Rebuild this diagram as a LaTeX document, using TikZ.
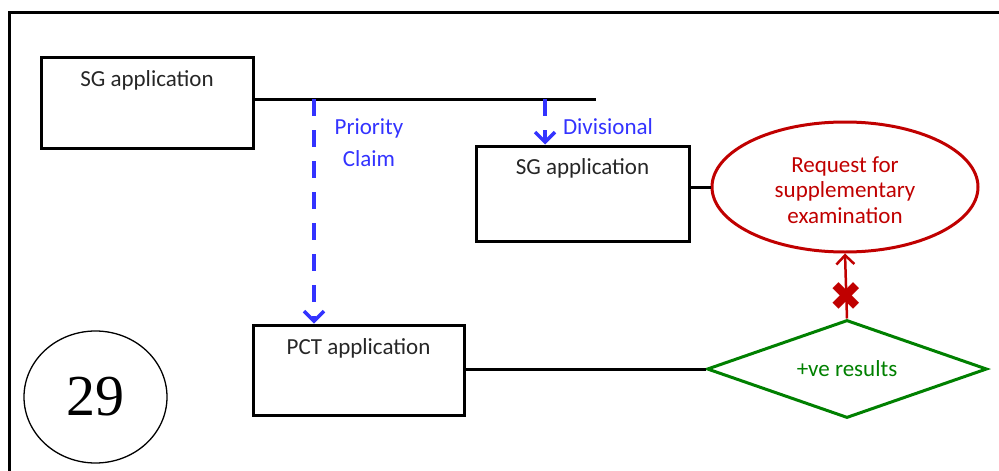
\documentclass[tikz,border=0pt]{standalone}
\usepackage{fontspec}
\setmainfont{Carlito}
\newfontfamily\timesf{Liberation Serif}
\newfontfamily\symf{DejaVu Sans}
\usetikzlibrary{shapes.geometric,arrows.meta}
\definecolor{myblue}{RGB}{51,51,255}
\definecolor{myred}{RGB}{192,0,0}
\definecolor{mygreen}{RGB}{0,128,0}
\definecolor{mytext}{RGB}{38,38,38}
\tikzset{
  box/.style={draw=black, line width=3pt, inner sep=0pt, rectangle},
  boxtext/.style={font=\fontsize{23}{25}\selectfont, text=mytext, inner sep=0pt},
  bluetext/.style={font=\fontsize{23}{32}\selectfont, text=myblue, align=center, inner sep=0pt},
  dasharrow/.style={draw=myblue, line width=3.5pt, dash pattern=on 17pt off 14pt,
     -{Straight Barb[length=10pt,width=20pt,line width=3.5pt]}},
  plainline/.style={draw=black, line width=3pt},
  reqoval/.style={ellipse, draw=myred, line width=3pt, inner sep=0pt,
     minimum width=266pt, minimum height=130pt, text=myred, align=center,
     font=\fontsize{23}{25.5}\selectfont},
  resdiamond/.style={diamond, draw=mygreen, line width=3pt, inner sep=0pt, shape aspect=2.8,
     minimum width=280pt, minimum height=98pt, text=mygreen, font=\fontsize{23}{25}\selectfont},
  crossmark/.style={text=myred, font=\symf\fontsize{40}{40}\selectfont, inner sep=0pt},
  numcircle/.style={ellipse, draw=black, line width=1.3pt, inner sep=0pt,
     minimum width=143pt, minimum height=132pt, font=\timesf\fontsize{58}{58}\selectfont}
}
\begin{document}
\begin{tikzpicture}[x=1pt,y=-1pt]
\useasboundingbox (0,0) rectangle (999,471);
% frame
\draw[line width=3pt] (9,480) -- (9,12.7) -- (1010,12.7);

% boxes
\node[box, minimum width=212pt, minimum height=91pt] (sg1) at (147,102.5) {};
\node[boxtext] (sg1t) at ([yshift=-25pt]sg1.north) {SG application};

\node[box, minimum width=213pt, minimum height=95pt] (sg2) at (582.5,193.5) {};
\node[boxtext] (sg2t) at ([yshift=-24pt]sg2.north) {SG application};

\node[box, minimum width=211pt, minimum height=90pt] (pct) at (358.5,370) {};
\node[boxtext] (pctt) at ([yshift=-25pt]pct.north) {PCT application};

% ellipse and diamond
\node[reqoval] (req) at (845,187) {};
\node[text=myred, align=center, font=\fontsize{23}{25.5}\selectfont, inner sep=0pt] (reqt) at (845,190) {Request for\\supplementary\\examination};
\node[resdiamond] (res) at (847,369) {+ve results};

% circle 29
\node[numcircle] (num) at (95.5,397) {29};

% horizontal bar
\coordinate (barend) at (596,99);
\draw[plainline] (sg1.east |- barend) -- (barend);
\coordinate (pc) at (314,99);
\coordinate (dv) at (545,99);
\draw[dasharrow] (pc) -- (pc |- pct.north);
\draw[dasharrow] (dv) -- (dv |- sg2.north);
\node[bluetext] (prio) at (369,143) {Priority\\Claim};
\node[bluetext] (divl) at (608,127) {Divisional};

% connectors
\draw[plainline] (req.west -| sg2.east) -- (req.west);
\draw[plainline] (res.west -| pct.east) -- (res.west);
\draw[draw=myred, line width=2.5pt, -{Straight Barb[length=9pt,width=18pt,line width=2.5pt]}]
   (res.north) -- node[crossmark, pos=0.34] (xm) {✖} (req.south);
\end{tikzpicture}
\end{document}
